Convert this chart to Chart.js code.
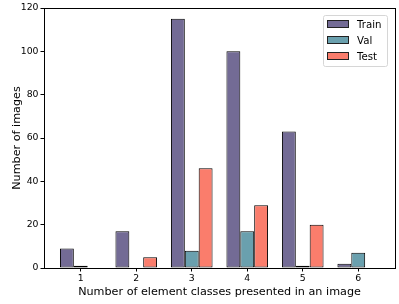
<!DOCTYPE html>
<html>
<head>
<meta charset="utf-8">
<script src="https://cdn.jsdelivr.net/npm/chart.js@4/dist/chart.umd.min.js"></script>
<style>
  html, body { margin: 0; padding: 0; background: #fff; }
  #wrap { width: 399px; height: 304px; }
</style>
</head>
<body>
<div id="wrap"><canvas id="chart" width="399" height="304"></canvas></div>
<script>
'use strict';

const categories = [1, 2, 3, 4, 5, 6];
const train_values = [9, 17, 115, 100, 63, 2];
const val_values = [1, 0, 8, 17, 1, 7];
const test_values = [0, 5, 46, 29, 20, 0];
const y_ticks = [0, 20, 40, 60, 80, 100, 120];

const series = [
    { label: 'Train', values: train_values, colour: '#736b95' },
    { label: 'Val', values: val_values, colour: '#6aa0ae' },
    { label: 'Test', values: test_values, colour: '#fa7d6c' }
];

const FONT = 'DejaVu Sans';

// box round the plot area, like matplotlib spines
const frame_plugin = {
    id: 'frame',
    afterDraw(chart) {
        const { ctx, chartArea: a } = chart;
        ctx.save();
        ctx.strokeStyle = '#000';
        ctx.lineWidth = 1;
        ctx.strokeRect(Math.round(a.left) + 0.5, Math.round(a.top) + 0.5,
            Math.round(a.right - a.left), Math.round(a.bottom - a.top));
        ctx.restore();
    }
};

// framed legend in the upper right corner
const legend_plugin = {
    id: 'boxLegend',
    afterDraw(chart) {
        const { ctx, chartArea: a } = chart;
        const box_w = 64, box_h = 51;
        const x0 = a.right - 8 - box_w, y0 = a.top + 7;
        ctx.save();
        ctx.fillStyle = 'rgba(255,255,255,0.8)';
        ctx.strokeStyle = '#d6d6d6';
        ctx.lineWidth = 1;
        ctx.beginPath();
        ctx.roundRect(x0 + 0.5, y0 + 0.5, box_w, box_h, 2);
        ctx.fill();
        ctx.stroke();
        ctx.font = `10.2px "${FONT}"`;
        ctx.textBaseline = 'middle';
        series.forEach((s, i) => {
            const cy = y0 + 9 + i * 16;
            ctx.fillStyle = s.colour;
            ctx.fillRect(x0 + 4, cy - 4, 22, 8);
            ctx.strokeStyle = '#222';
            ctx.strokeRect(x0 + 4.5, cy - 3.5, 21, 7);
            ctx.fillStyle = '#000';
            ctx.fillText(s.label, x0 + 34, cy + 1);
        });
        ctx.restore();
    }
};

const datasets = series.map(s => ({
    label: s.label,
    data: categories.map((c, i) => ({ x: c, y: s.values[i] })),
    backgroundColor: s.colour,
    borderColor: '#000',
    borderWidth: 1,
    borderSkipped: false,
    categoryPercentage: 0.75,
    barPercentage: 1.0
}));

new Chart(document.getElementById('chart'), {
    type: 'bar',
    data: { datasets: datasets },
    plugins: [frame_plugin, legend_plugin],
    options: {
        responsive: false,
        animation: false,
        layout: { padding: { top: 8, right: 4, left: 0, bottom: 0 } },
        plugins: {
            legend: { display: false },
            tooltip: { enabled: false }
        },
        scales: {
            x: {
                type: 'linear',
                offset: false,
                min: 0.3375,
                max: 6.6625,
                afterBuildTicks: scale => {
                    scale.ticks = categories.map(v => ({ value: v }));
                },
                afterFit: scale => { scale.height = 36; },
                grid: {
                    offset: false,
                    drawOnChartArea: false,
                    drawTicks: true,
                    tickLength: 3.5,
                    color: '#000'
                },
                border: { display: false },
                ticks: {
                    color: '#000',
                    font: { family: FONT, size: 9.3 },
                    padding: 2,
                    maxRotation: 0
                },
                title: {
                    display: true,
                    text: 'Number of element classes presented in an image',
                    color: '#000',
                    font: { family: FONT, size: 11.2 },
                    padding: { top: 1, bottom: 5 }
                }
            },
            y: {
                min: 0,
                max: 120,
                afterBuildTicks: scale => {
                    scale.ticks = y_ticks.map(v => ({ value: v }));
                },
                afterFit: scale => { scale.width = 44; },
                grid: {
                    drawOnChartArea: false,
                    drawTicks: true,
                    tickLength: 3.5,
                    color: '#000'
                },
                border: { display: false },
                ticks: {
                    color: '#000',
                    font: { family: FONT, size: 9.3 },
                    padding: 2
                },
                title: {
                    display: true,
                    text: 'Number of images',
                    color: '#000',
                    font: { family: FONT, size: 11.2 },
                    padding: { top: 10, bottom: 0 }
                }
            }
        }
    }
});
</script>
</body>
</html>
